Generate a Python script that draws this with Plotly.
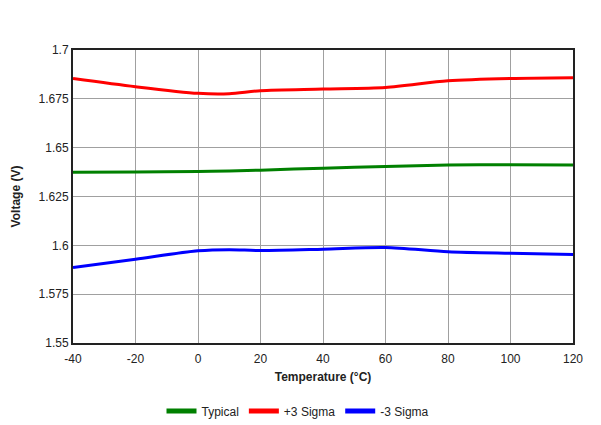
import plotly.graph_objects as go

temperature = [-40, -20, 0, 10, 20, 40, 60, 80, 100, 120]
typical = [1.6374, 1.6375, 1.6378, 1.6381, 1.6385, 1.6395, 1.6404, 1.6411, 1.6413, 1.6411]
plus3 = [1.6854, 1.6812, 1.6778, 1.6776, 1.6792, 1.6800, 1.6808, 1.6842, 1.6854, 1.6858]
minus3 = [1.5886, 1.5929, 1.5972, 1.5978, 1.5973, 1.5980, 1.5989, 1.5967, 1.5959, 1.5953]

x_ticks = [-40, -20, 0, 20, 40, 60, 80, 100, 120]
x_tick_text = ["-40", "-20", "0", "20", "40", "60", "80", "100", "120"]
y_ticks = [1.55, 1.575, 1.6, 1.625, 1.65, 1.675, 1.7]
y_tick_text = ["1.55", "1.575", "1.6", "1.625", "1.65", "1.675", "1.7"]

font_family = "Liberation Sans, Arial, sans-serif"

fig = go.Figure()
for name, vals, color in [("Typical", typical, "#008000"),
                          ("+3 Sigma", plus3, "#ff0000"),
                          ("-3 Sigma", minus3, "#0000ff")]:
    fig.add_trace(go.Scatter(x=temperature, y=vals, name=name, mode="lines",
                             line=dict(color=color, width=3, shape="spline", smoothing=0.8)))

# page body has an 8px margin, so the figure is drawn at (8, 8) in the window
W, H = 593, 417
ml, mr, mt, mb = 65, 28, 42, 82
pw, ph = W - ml - mr, H - mt - mb

fig.update_layout(
    width=W, height=H,
    margin=dict(l=ml, r=mr, t=mt, b=mb, autoexpand=False),
    paper_bgcolor="white", plot_bgcolor="white",
    font=dict(family=font_family, size=11, color="#222222"),
    showlegend=True,
    legend=dict(orientation="h", x=(298 - 8 - ml) / pw, xanchor="center",
                y=(H - mb - (411 - 8)) / ph, yanchor="middle",
                font=dict(size=12, family=font_family, color="#222222"),
                itemwidth=30, tracegroupgap=0, itemsizing="constant"),
    xaxis=dict(range=[-40, 120], tickvals=x_ticks, ticktext=x_tick_text, ticks="", showgrid=True,
               gridcolor="#a0a0a0", gridwidth=1, zeroline=False, automargin=False,
               showline=True, linecolor="#222222", linewidth=2, mirror=True,
               tickfont=dict(size=12), ticklabelstandoff=4,
               title=dict(text="<b>Temperature (°C)</b>", font=dict(size=12), standoff=7)),
    yaxis=dict(range=[1.55, 1.7], tickvals=y_ticks, ticktext=y_tick_text, ticks="",
               showgrid=True, gridcolor="#a0a0a0", gridwidth=1, zeroline=False, automargin=False,
               showline=True, linecolor="#222222", linewidth=2, mirror=True,
               tickfont=dict(size=12),
               title=dict(text="<b>Voltage (V)</b>", font=dict(size=12), standoff=15)),
)

fig.write_html("out.html")
